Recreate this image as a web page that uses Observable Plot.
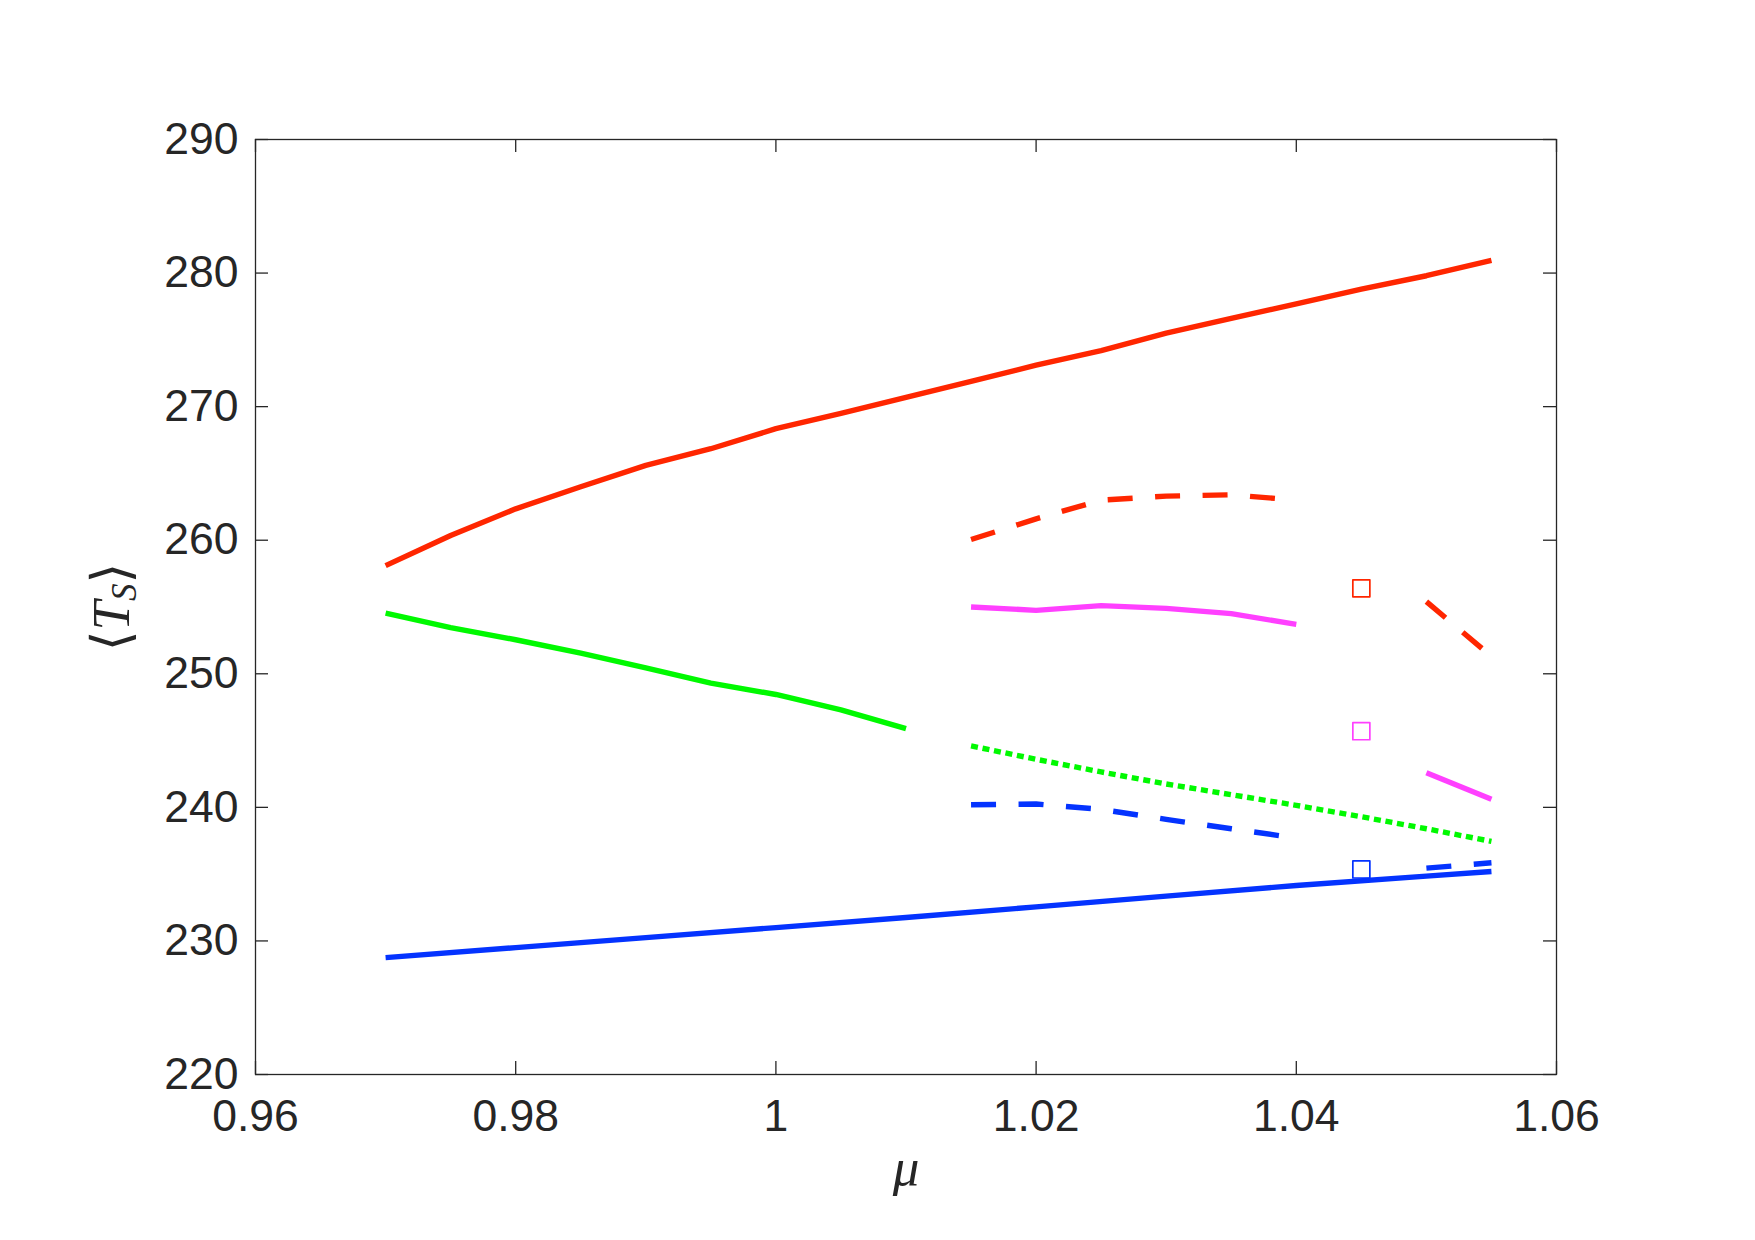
<!DOCTYPE html>
<html>
<head>
<meta charset="utf-8">
<script src="https://cdn.jsdelivr.net/npm/d3@7"></script>
<script src="https://cdn.jsdelivr.net/npm/@observablehq/plot@0.6"></script>
<style>html,body{margin:0;padding:0;background:#fff;overflow:hidden;}</style>
</head>
<body>
<script>
// ---- tick definitions ----
const xTicks = [0.96, 0.98, 1, 1.02, 1.04, 1.06];
const xTickLabels = ["0.96", "0.98", "1", "1.02", "1.04", "1.06"];
const yTicks = [220, 230, 240, 250, 260, 270, 280, 290];

// ---- series ----
const muLong = [0.97, 0.975, 0.98, 0.985, 0.99, 0.995, 1.0, 1.005, 1.01, 1.015, 1.02, 1.025, 1.03, 1.035, 1.04, 1.045, 1.05, 1.055];
const tsRedSolid = [258.1, 260.35, 262.35, 264.0, 265.6, 266.85, 268.35, 269.5, 270.7, 271.9, 273.1, 274.2, 275.5, 276.6, 277.7, 278.8, 279.8, 280.95];

const muGreen = [0.97, 0.975, 0.98, 0.985, 0.99, 0.995, 1.0, 1.005, 1.01];
const tsGreenSolid = [254.55, 253.45, 252.55, 251.55, 250.45, 249.3, 248.45, 247.3, 245.9];

const muBlue = [0.97, 0.98, 0.99, 1.0, 1.01, 1.02, 1.03, 1.04, 1.05, 1.055];
const tsBlueSolid = [228.75, 229.5, 230.25, 231.0, 231.75, 232.55, 233.35, 234.15, 234.85, 235.2];

const muMid = [1.015, 1.02, 1.025, 1.03, 1.035, 1.04];
const tsRedDashed = [260.05, 261.6, 263.0, 263.3, 263.4, 263.0];
const tsMagentaSolid = [255.0, 254.75, 255.1, 254.9, 254.5, 253.7];
const tsBlueDashed = [240.2, 240.25, 239.85, 239.1, 238.4, 237.7];

const muDotted = [1.015, 1.02, 1.025, 1.03, 1.035, 1.04, 1.045, 1.05, 1.055];
const tsGreenDotted = [244.6, 243.6, 242.65, 241.75, 240.95, 240.15, 239.3, 238.4, 237.45];

const muRight = [1.05, 1.055];
const tsRedDashedRight = [255.4, 251.3];
const tsMagentaRight = [242.6, 240.6];
const tsBlueDashedRight = [235.45, 235.85];

const muSquares = [1.045, 1.045, 1.045];
const tsSquares = [256.4, 245.7, 235.35];
const squareColors = ["#ff2600", "#ff40ff", "#0433ff"];

// ---- colours ----
const RED = "#ff2600", GREEN = "#00f900", BLUE = "#0433ff", MAGENTA = "#ff40ff";
const AXIS = "#262626";

const pts = (mu, ts) => mu.map((m, i) => ({mu: m, ts: ts[i]}));

const W = 1755, H = 1240;
const mL = 255, mR = 199, mT = 139, mB = 166;
const innerW = W - mL - mR, innerH = H - mT - mB;
const TICK = 13;
const LW = 5.4;

const lineMark = (mu, ts, color, dash) => Plot.line(pts(mu, ts), {
  x: "mu", y: "ts", stroke: color, strokeWidth: LW,
  strokeDasharray: dash, strokeLinecap: "butt", strokeLinejoin: "round", curve: "linear"
});

const chart = Plot.plot({
  width: W, height: H,
  marginLeft: mL, marginRight: mR, marginTop: mT, marginBottom: mB,
  x: {domain: [0.96, 1.06], label: null},
  y: {domain: [220, 290], label: null},
  style: {fontFamily: '"Liberation Sans", Arial, Helvetica, sans-serif', fontSize: "44.5px", color: AXIS, background: "#fff", overflow: "visible"},
  marks: [
    // inward ticks on all four sides
    Plot.tickX(xTicks, {x: d => d, insetTop: innerH - TICK, stroke: AXIS, strokeWidth: 1.3}),
    Plot.tickX(xTicks, {x: d => d, insetBottom: innerH - TICK, stroke: AXIS, strokeWidth: 1.3}),
    Plot.tickY(yTicks, {y: d => d, insetRight: innerW - TICK, stroke: AXIS, strokeWidth: 1.3}),
    Plot.tickY(yTicks, {y: d => d, insetLeft: innerW - TICK, stroke: AXIS, strokeWidth: 1.3}),
    Plot.frame({stroke: AXIS, strokeWidth: 1.3}),
    Plot.axisX(xTicks, {tickSize: 0, tickPadding: 25, tickFormat: d => xTickLabels[xTicks.indexOf(d)], label: null}),
    Plot.axisY(yTicks, {tickSize: 0, tickPadding: 17, label: null}),

    // curves
    lineMark(muLong, tsRedSolid, RED, null),
    lineMark(muGreen, tsGreenSolid, GREEN, null),
    lineMark(muBlue, tsBlueSolid, BLUE, null),
    lineMark(muMid, tsRedDashed, RED, "25,22.5"),
    lineMark(muMid, tsMagentaSolid, MAGENTA, null),
    lineMark(muMid, tsBlueDashed, BLUE, "25,22.5"),
    lineMark(muDotted, tsGreenDotted, GREEN, "7,4.7"),
    lineMark(muRight, tsRedDashedRight, RED, "25,22.5"),
    lineMark(muRight, tsMagentaRight, MAGENTA, null),
    lineMark(muRight, tsBlueDashedRight, BLUE, "25,22.5"),

    // squares
    Plot.dot(muSquares.map((m, i) => ({mu: m, ts: tsSquares[i], c: squareColors[i]})), {
      x: "mu", y: "ts", symbol: "square", r: 9.6, fill: "none", stroke: d => d.c, strokeWidth: 1.7, strokeLinejoin: "round"
    }),

    // axis labels
    Plot.text(["μ"], {text: d => d, frameAnchor: "bottom", dy: 110, lineAnchor: "bottom", textAnchor: "middle",
      fontFamily: '"Liberation Serif", "Times New Roman", serif', fontStyle: "italic", fontSize: 53, fill: AXIS}),
    Plot.text(["⟨TS⟩"], {text: d => d, frameAnchor: "left", dx: -127, rotate: -90, lineAnchor: "bottom", textAnchor: "middle",
      fontFamily: '"Liberation Serif", "Times New Roman", serif', fontSize: 53, fill: AXIS})
  ]
});

// subscript formatting for the y label
const NS = "http://www.w3.org/2000/svg";
chart.querySelectorAll("text").forEach(t => {
  if (t.textContent === "⟨TS⟩") {
    t.textContent = "";
    const add = (s, attrs) => {
      const e = document.createElementNS(NS, "tspan");
      e.textContent = s;
      for (const k in attrs) e.setAttribute(k, attrs[k]);
      t.appendChild(e);
    };
    add("⟨", {"font-family": '"DejaVu Serif", serif', "font-weight": "200"});
    add("T", {"font-style": "italic"});
    add("S", {"font-style": "italic", "font-size": "0.66em", "dy": "0.22em"});
    add("⟩", {"font-family": '"DejaVu Serif", serif', "dy": "-0.145em"});
  }
});

document.body.appendChild(chart);
</script>
</body>
</html>
